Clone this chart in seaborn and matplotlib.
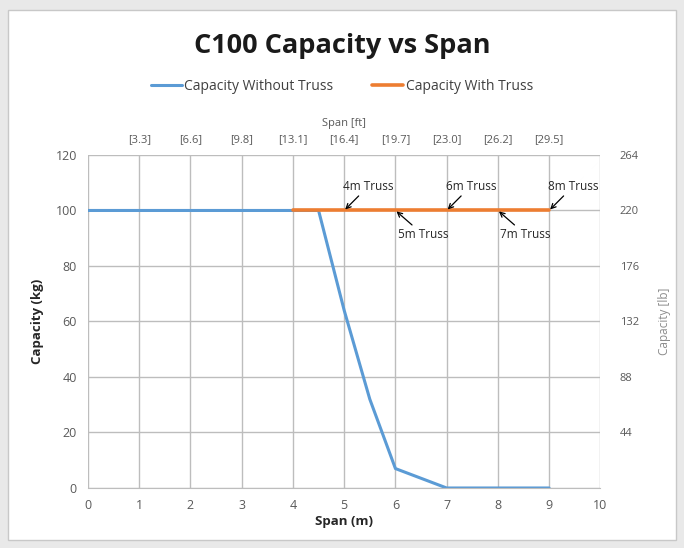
import matplotlib
matplotlib.use("Agg")
import matplotlib.pyplot as plt
import seaborn as sns
import pandas as pd
from matplotlib.patches import Rectangle

# data
span_no_truss = [0, 1, 2, 3, 4, 4.5, 5, 5.5, 6, 7, 8, 9]
cap_no_truss = [100, 100, 100, 100, 100, 100, 64, 32, 7, 0, 0, 0]
span_truss = [4, 5, 6, 7, 8, 9]
cap_truss = [100, 100, 100, 100, 100, 100]
truss_labels = ["4m Truss", "5m Truss", "6m Truss", "7m Truss", "8m Truss"]
truss_spans = [5, 6, 7, 8, 9]
ft_ticks = [1, 2, 3, 4, 5, 6, 7, 8, 9]
ft_labels = ["[3.3]", "[6.6]", "[9.8]", "[13.1]", "[16.4]", "[19.7]", "[23.0]", "[26.2]", "[29.5]"]
lb_ticks = [20, 40, 60, 80, 100, 120]
lb_labels = ["44", "88", "132", "176", "220", "264"]

sns.set_style("white")
plt.rcParams["font.family"] = ["Open Sans", "DejaVu Sans"]

blue = "#5b9bd5"
orange = "#ed7d31"
grey_txt = "#595959"

df1 = pd.DataFrame({"span": span_no_truss, "cap": cap_no_truss})
df2 = pd.DataFrame({"span": span_truss, "cap": cap_truss})

fig = plt.figure(figsize=(6.84, 5.48), dpi=100, facecolor="#e9e9e9")
fig.patches.append(Rectangle((0.012, 0.014), 0.976, 0.968, transform=fig.transFigure,
                             facecolor="white", edgecolor="#c8c8c8", lw=1, zorder=-1))
ax = fig.add_axes([0.1287, 0.1095, 0.749, 0.6077])

sns.lineplot(data=df1, x="span", y="cap", ax=ax, color=blue, lw=2.2,
             label="Capacity Without Truss")
sns.lineplot(data=df2, x="span", y="cap", ax=ax, color=orange, lw=2.6,
             label="Capacity With Truss")

ax.set_xlim(0, 10)
ax.set_ylim(0, 120)
ax.set_xticks(range(0, 11))
ax.set_yticks(range(0, 121, 20))
ax.grid(True, color="#bdbdbd", lw=1)
for s in ax.spines.values():
    s.set_visible(False)
ax.spines["bottom"].set_visible(True)
ax.spines["bottom"].set_color("#bdbdbd")
ax.tick_params(axis="both", labelsize=9, colors=grey_txt, length=0, pad=8)
ax.set_xlabel("Span (m)", fontsize=9.5, fontweight="bold", color="#262626", labelpad=2)
ax.set_ylabel("Capacity (kg)", fontsize=9.5, fontweight="bold", color="#262626", labelpad=8)

# truss annotations
for i, (lab, xs) in enumerate(zip(truss_labels, truss_spans)):
    if i % 2 == 0:
        ax.annotate(lab, xy=(xs, 100), xytext=(xs - 0.02, 107.5), fontsize=8.5, color="#262626",
                    arrowprops=dict(arrowstyle="->", color="black", lw=0.9, shrinkA=0, shrinkB=1))
    else:
        ax.annotate(lab, xy=(xs, 100), xytext=(xs + 0.05, 90), fontsize=8.5, color="#262626",
                    arrowprops=dict(arrowstyle="->", color="black", lw=0.9, shrinkA=0, shrinkB=1))

# top axis in feet
axt = ax.twiny()
axt.set_xlim(ax.get_xlim())
axt.set_xticks(ft_ticks)
axt.set_xticklabels(ft_labels)
axt.tick_params(axis="x", labelsize=8, colors=grey_txt, length=0, pad=7)
axt.set_xlabel("Span [ft]", fontsize=8, color=grey_txt, labelpad=6)
for s in axt.spines.values():
    s.set_visible(False)

# right axis in lb
axr = ax.twinx()
axr.set_ylim(ax.get_ylim())
axr.set_yticks(lb_ticks)
axr.set_yticklabels(lb_labels)
axr.tick_params(axis="y", labelsize=8, colors=grey_txt, length=0, pad=14)
axr.set_ylabel("Capacity [lb]", fontsize=8.5, color="#8c8c8c", labelpad=14)
for s in axr.spines.values():
    s.set_visible(False)

ax.legend_.remove()
h, l = ax.get_legend_handles_labels()
fig.legend(h, l, loc="center", bbox_to_anchor=(0.5, 0.842), ncol=2, frameon=False,
           fontsize=10, handlelength=2.2, columnspacing=2.8, handletextpad=0.2,
           labelcolor="#404040")

fig.suptitle("C100 Capacity vs Span", x=0.5, y=0.94, fontsize=19.5, fontweight="bold",
             color="#1a1a1a")

fig.savefig("out.png", dpi=100, facecolor=fig.get_facecolor())
